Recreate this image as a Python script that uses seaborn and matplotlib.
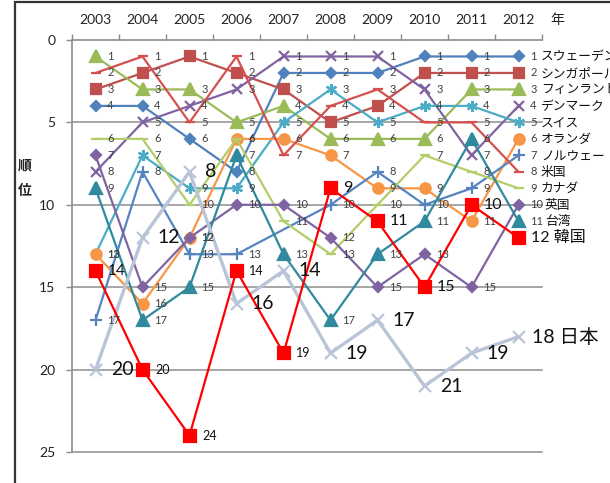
import matplotlib
matplotlib.use("Agg")
import matplotlib.pyplot as plt
from matplotlib.patches import Rectangle
import seaborn as sns
import pandas as pd
import numpy as np

# ---- data: yearly rank of each country ----
years = [2003, 2004, 2005, 2006, 2007, 2008, 2009, 2010, 2011, 2012]
countries = ["スウェーデン", "シンガポール", "フィンランド", "デンマーク", "スイス", "オランダ",
             "ノルウェー", "米国", "カナダ", "英国", "台湾", "日本", "韓国"]
sweden      = [4, 4, 6, 8, 2, 2, 2, 1, 1, 1]
singapore   = [3, 2, 1, 2, 3, 5, 4, 2, 2, 2]
finland     = [1, 3, 3, 5, 4, 6, 6, 6, 3, 3]
denmark     = [8, 5, 4, 3, 1, 1, 1, 3, 7, 4]
switzerland = [13, 7, 9, 9, 5, 3, 5, 4, 4, 5]
netherlands = [13, 16, 12, 6, 6, 7, 9, 9, 11, 6]
norway      = [17, 8, 13, 13, None, 10, 8, 10, 9, 7]
usa         = [2, 1, 5, 1, 7, 4, 3, 5, 5, 8]
canada      = [6, 6, 10, 6, 11, 13, 10, 7, 8, 9]
uk          = [7, 15, 12, 10, 10, 12, 15, 13, 15, 10]
taiwan      = [9, 17, 15, 7, 13, 17, 13, 11, 6, 11]
japan       = [20, 12, 8, 16, 14, 19, 17, 21, 19, 18]
korea       = [14, 20, 24, 14, 19, 9, 11, 15, 10, 12]
y_ticks = [0, 5, 10, 15, 20, 25]

ranks = [sweden, singapore, finland, denmark, switzerland, netherlands,
         norway, usa, canada, uk, taiwan, japan, korea]

# per-series styling: colour, marker, marker size, line width
styles = {
    "スウェーデン": dict(color="#4F81BD", marker="D", ms=4.8, lw=1.6),
    "シンガポール": dict(color="#C0504D", marker="s", ms=7.5, lw=1.6),
    "フィンランド": dict(color="#9BBB59", marker="^", ms=8, lw=1.6),
    "デンマーク":   dict(color="#8064A2", marker="x", ms=7, lw=1.6),
    "スイス":       dict(color="#4BACC6", marker=(6, 2, 0), ms=8, lw=1.6),
    "オランダ":     dict(color="#F79646", marker="o", ms=7.5, lw=1.6),
    "ノルウェー":   dict(color="#5584C0", marker="+", ms=8, lw=1.6),
    "米国":         dict(color="#D5504E", marker="_", ms=7, lw=1.6),
    "カナダ":       dict(color="#B2CD6A", marker="_", ms=7, lw=1.6),
    "英国":         dict(color="#8064A2", marker="D", ms=5.2, lw=1.6),
    "台湾":         dict(color="#31899E", marker="^", ms=8.5, lw=1.6),
    "日本":         dict(color="#B9C4D8", marker="x", ms=8, lw=2.4),
    "韓国":         dict(color="#FF0000", marker="s", ms=8, lw=1.6),
}

# label font sizes (per point) for the highlighted series
korea_sizes = [11, 9, 9, 9, 9, 11.5, 11.5, 11.5, 11.5, 11.5]

sns.set_theme(style="white")
plt.rcParams["font.family"] = ["Lato", "Noto Sans CJK JP", "DejaVu Sans"]

fig = plt.figure(figsize=(6.10, 4.83), dpi=100)
ax = fig.add_axes([72 / 610, 1 - 452 / 483, 470 / 610, 412 / 483])

xpos = np.arange(len(years))

for name, vals in zip(countries, ranks):
    st = styles[name]
    df = pd.DataFrame({"x": xpos, "rank": vals}).dropna()
    sns.lineplot(data=df, x="x", y="rank", ax=ax, color=st["color"],
                 marker=st["marker"], markersize=st["ms"], linewidth=st["lw"],
                 markeredgecolor=st["color"], markeredgewidth=1.6,
                 clip_on=False, zorder=3, legend=False, sort=False)
    for i, (x, v) in enumerate(zip(df["x"], df["rank"])):
        v = int(v)
        last = (x == xpos[-1])
        if name == "日本":
            txt = f"{v} {name}" if last else f"{v}"
            ax.annotate(txt, (x, v), xytext=(10 if last else 11, 0),
                        textcoords="offset points", ha="left", va="center",
                        fontsize=14, color="#111111", zorder=6)
        elif name == "韓国":
            txt = f"{v} {name}" if last else f"{v}"
            ax.annotate(txt, (x, v), xytext=(9, 0), textcoords="offset points",
                        ha="left", va="center", fontsize=korea_sizes[x],
                        color="#111111", zorder=6)
        else:
            ax.annotate(f"{v}", (x, v), xytext=(8.5, 0), textcoords="offset points",
                        ha="left", va="center", fontsize=8, color="#404040", zorder=6)
            if last:
                ax.annotate(name, (x, v), xytext=(19 if v >= 10 else 16, 0),
                            textcoords="offset points", ha="left", va="center",
                            fontsize=9.2, color="#111111", zorder=6)

# axes: inverted rank scale, categories on top
ax.set_xlim(-0.5, len(years) - 0.5)
ax.set_ylim(25, 0)
ax.set_yticks(y_ticks)
ax.set_yticklabels([str(t) for t in y_ticks], fontsize=10, color="#222222")
ax.xaxis.tick_top()
ax.set_xticks(xpos)
ax.set_xticklabels([str(y) for y in years], fontsize=10, color="#222222")
ax.set_xticks(np.arange(-0.5, len(years), 1.0), minor=True)
ax.tick_params(axis="x", which="major", length=0, pad=10)
ax.tick_params(axis="x", which="minor", length=4, width=1, color="#8C8C8C",
               direction="out", top=True, bottom=False)
ax.tick_params(axis="y", which="major", length=4, width=1, color="#8C8C8C",
               direction="out", left=True, pad=8)
ax.set_xlabel("")
ax.set_ylabel("")

ax.grid(False)
for t in y_ticks[1:]:
    ax.axhline(t, color="#A6A6A6", lw=1.4, zorder=1, clip_on=False)
for side in ["bottom", "right"]:
    ax.spines[side].set_visible(False)
for side in ["top", "left"]:
    ax.spines[side].set_color("#8C8C8C")
    ax.spines[side].set_linewidth(1.2)

fig.text(557 / 610, 1 - 20 / 483, "年", ha="center", va="center",
         fontsize=10, color="#222222")
fig.text(25 / 610, 1 - 165 / 483, "順", ha="center", va="center",
         fontsize=10, fontweight="bold", color="#222222")
fig.text(25 / 610, 1 - 190 / 483, "位", ha="center", va="center",
         fontsize=10, fontweight="bold", color="#222222")

# outer frame of the chart area
fig.patches.append(Rectangle((15 / 610, -0.1), 1.2, 1.1 - 2.5 / 483,
                             transform=fig.transFigure, fill=False,
                             edgecolor="#333333", linewidth=1.6, zorder=0))

fig.savefig("out.png", dpi=100)
